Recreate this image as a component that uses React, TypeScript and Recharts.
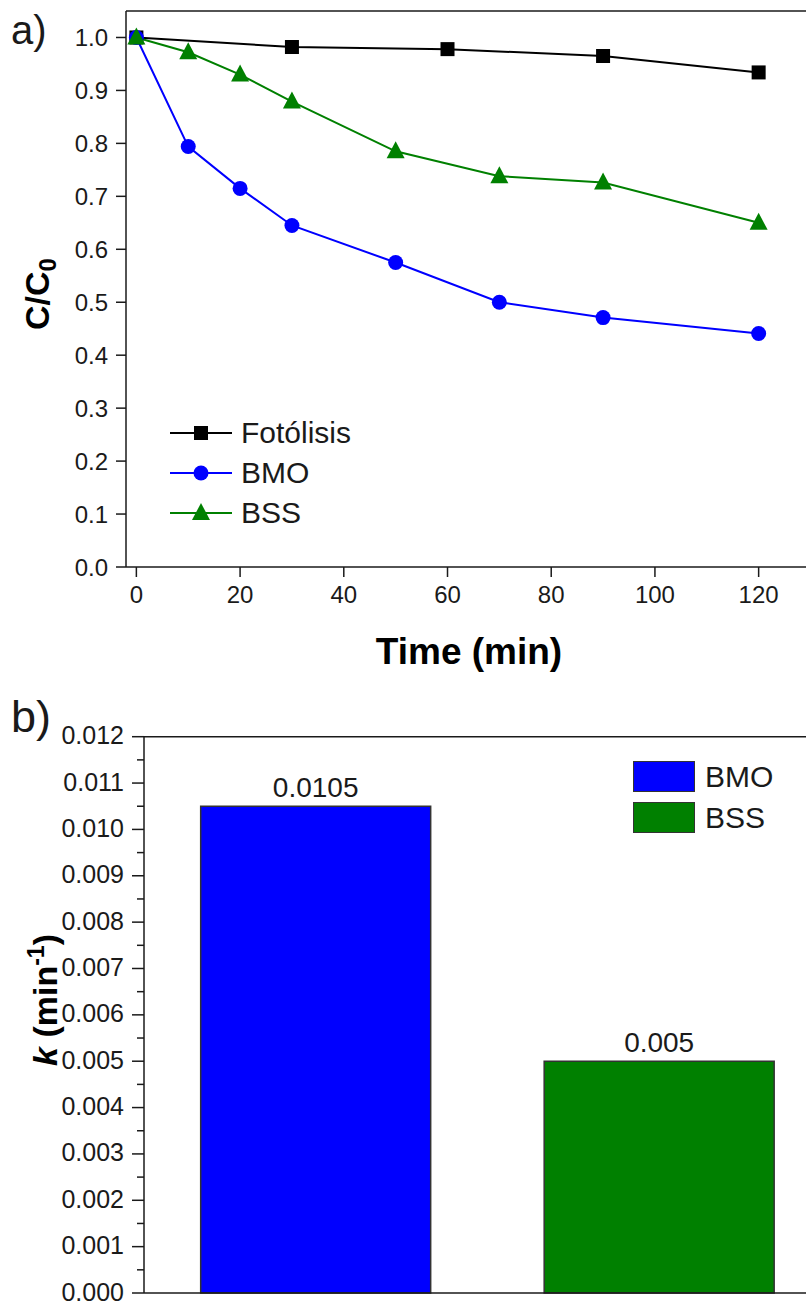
import { LineChart, Line, BarChart, Bar, Cell, XAxis, YAxis, ReferenceLine, Legend, LabelList } from 'recharts'

const FONT = '"Liberation Sans", Arial, sans-serif'
const INK = '#1a1a1a'

// a) C/C0 vs time
const fotolisisTime = [0, 30, 60, 90, 120]
const fotolisisValues = [1.0, 0.982, 0.978, 0.965, 0.934]
const catTime = [0, 10, 20, 30, 50, 70, 90, 120]
const bmoValues = [1.0, 0.794, 0.715, 0.645, 0.575, 0.5, 0.471, 0.441]
const bssValues = [1.0, 0.972, 0.93, 0.879, 0.785, 0.738, 0.726, 0.65]
const timeTicks = [0, 20, 40, 60, 80, 100, 120]
const ratioTicks = [0, 0.1, 0.2, 0.3, 0.4, 0.5, 0.6, 0.7, 0.8, 0.9, 1.0]

// b) rate constants
const catalysts = ['BMO', 'BSS']
const rateValues = [0.0105, 0.005]
const rateTicks = [
  0, 0.0005, 0.001, 0.0015, 0.002, 0.0025, 0.003, 0.0035, 0.004, 0.0045, 0.005, 0.0055, 0.006,
  0.0065, 0.007, 0.0075, 0.008, 0.0085, 0.009, 0.0095, 0.01, 0.0105, 0.011, 0.0115, 0.012,
]

const BLUE = '#0000ff'
const GREEN = '#008000'

const fotolisisData = fotolisisTime.map((t, i) => ({ t, v: fotolisisValues[i] }))
const bmoData = catTime.map((t, i) => ({ t, v: bmoValues[i] }))
const bssData = catTime.map((t, i) => ({ t, v: bssValues[i] }))
const rateData = catalysts.map((name, i) => ({ name, k: rateValues[i] }))
const barColors = [BLUE, GREEN]

const SquareDot = (p: any) => (
  <rect key={p.index} x={p.cx - 7} y={p.cy - 7} width={14} height={14} fill="#000" />
)
const CircleDot = (p: any) => <circle key={p.index} cx={p.cx} cy={p.cy} r={7.5} fill={BLUE} />
const TriangleDot = (p: any) => (
  <polygon
    key={p.index}
    points={`${p.cx},${p.cy - 10} ${p.cx - 9},${p.cy + 7} ${p.cx + 9},${p.cy + 7}`}
    fill={GREEN}
  />
)

const lineLegend = [
  { label: 'Fotólisis', color: '#000', shape: 'square' },
  { label: 'BMO', color: BLUE, shape: 'circle' },
  { label: 'BSS', color: GREEN, shape: 'triangle' },
]

const LineLegend = () => (
  <div style={{ fontFamily: FONT, color: INK }}>
    {lineLegend.map((it) => (
      <div key={it.label} style={{ display: 'flex', alignItems: 'center', height: 40 }}>
        <svg width={62} height={40}>
          <line x1={0} x2={62} y1={20} y2={20} stroke={it.color} strokeWidth={2} />
          {it.shape === 'square' && <rect x={24} y={13} width={14} height={14} fill={it.color} />}
          {it.shape === 'circle' && <circle cx={31} cy={20} r={7.5} fill={it.color} />}
          {it.shape === 'triangle' && <polygon points="31,10 22,27 40,27" fill={it.color} />}
        </svg>
        <span style={{ fontSize: 30, marginLeft: 9, lineHeight: 1 }}>{it.label}</span>
      </div>
    ))}
  </div>
)

const BarLegend = () => (
  <div style={{ fontFamily: FONT, color: INK }}>
    {catalysts.map((c, i) => (
      <div key={c} style={{ display: 'flex', alignItems: 'center', height: 41 }}>
        <div
          style={{ width: 60, height: 29, background: barColors[i], border: '1px solid #333' }}
        />
        <span style={{ fontSize: 30, marginLeft: 10, lineHeight: 1 }}>{c}</span>
      </div>
    ))}
  </div>
)

const BAR_AXIS_X = 144

const RateTick = (props: any) => {
  const { y, payload } = props
  const v = payload.value
  const major = Math.round(v * 10000) % 10 === 0
  return (
    <g>
      <line
        x1={BAR_AXIS_X - (major ? 12 : 7)}
        x2={BAR_AXIS_X}
        y1={y}
        y2={y}
        stroke={INK}
        strokeWidth={1.5}
      />
      {major && (
        <text
          x={BAR_AXIS_X - 20}
          y={y}
          dy="0.3em"
          textAnchor="end"
          fontSize={25}
          fontFamily={FONT}
          fill={INK}
        >
          {v.toFixed(3)}
        </text>
      )}
    </g>
  )
}

export default function App() {
  return (
    <div
      style={{
        position: 'absolute',
        left: 0,
        top: 0,
        width: 806,
        height: 1306,
        overflow: 'hidden',
        background: '#fff',
        fontFamily: FONT,
      }}
    >
      {/* a) */}
      <div style={{ position: 'absolute', left: 0, top: 0 }}>
        <LineChart width={830} height={690} margin={{ top: 11, right: 19.5, left: 0, bottom: 83 }}>
          <XAxis
            type="number"
            dataKey="t"
            domain={[-2, 130]}
            ticks={timeTicks}
            allowDataOverflow
            height={40}
            stroke={INK}
            strokeWidth={1.5}
            tickSize={10}
            tickMargin={9}
            tick={{ fill: INK, fontSize: 24, fontFamily: FONT }}
          />
          <YAxis
            type="number"
            domain={[0, 1.05]}
            ticks={ratioTicks}
            width={126}
            interval={0}
            stroke={INK}
            strokeWidth={1.5}
            tickSize={10}
            tickMargin={8}
            tickFormatter={(v: number) => v.toFixed(1)}
            tick={{ fill: INK, fontSize: 24, fontFamily: FONT }}
          />
          <ReferenceLine y={1.05} stroke={INK} strokeWidth={1.5} />
          <Line
            data={fotolisisData}
            dataKey="v"
            stroke="#000"
            strokeWidth={2}
            dot={SquareDot}
            activeDot={false}
            isAnimationActive={false}
          />
          <Line
            data={bmoData}
            dataKey="v"
            stroke={BLUE}
            strokeWidth={2}
            dot={CircleDot}
            activeDot={false}
            isAnimationActive={false}
          />
          <Line
            data={bssData}
            dataKey="v"
            stroke={GREEN}
            strokeWidth={2}
            dot={TriangleDot}
            activeDot={false}
            isAnimationActive={false}
          />
          <Legend
            layout="vertical"
            align="center"
            verticalAlign="middle"
            content={<LineLegend />}
            wrapperStyle={{ left: 170, top: 413, width: 240 }}
          />
        </LineChart>
      </div>

      {/* b) */}
      <div style={{ position: 'absolute', left: 0, top: 690 }}>
        <BarChart
          width={850}
          height={616}
          data={rateData}
          barCategoryGap="16.5%"
          margin={{ top: 46.7, right: 19, left: 0, bottom: 0 }}
        >
          <XAxis
            dataKey="name"
            height={13}
            tick={false}
            tickLine={false}
            stroke={INK}
            strokeWidth={1.5}
          />
          <YAxis
            type="number"
            domain={[0, 0.012]}
            ticks={rateTicks}
            interval={0}
            width={144}
            stroke={INK}
            strokeWidth={1.5}
            tickLine={false}
            tick={<RateTick />}
          />
          <ReferenceLine y={0.012} stroke={INK} strokeWidth={1.5} />
          <Bar dataKey="k" stroke="#333" strokeWidth={1.5} isAnimationActive={false}>
            {rateData.map((d, i) => (
              <Cell key={d.name} fill={barColors[i]} />
            ))}
            <LabelList
              dataKey="k"
              position="top"
              offset={9}
              fill={INK}
              fontSize={28}
              fontFamily={FONT}
            />
          </Bar>
          <Legend
            layout="vertical"
            align="center"
            verticalAlign="middle"
            content={<BarLegend />}
            wrapperStyle={{ left: 633, top: 66, width: 160 }}
          />
        </BarChart>
      </div>

      {/* panel tags and axis titles */}
      <div style={{ position: 'absolute', left: 11, top: 10, fontSize: 40, lineHeight: '40px', color: INK }}>
        a)
      </div>
      <div style={{ position: 'absolute', left: 11, top: 694, fontSize: 45, lineHeight: '45px', color: INK }}>
        b)
      </div>
      <div
        style={{
          position: 'absolute',
          left: 469,
          top: 652,
          transform: 'translate(-50%, -50%)',
          fontSize: 37,
          fontWeight: 'bold',
          whiteSpace: 'nowrap',
          color: '#000',
        }}
      >
        Time (min)
      </div>
      <div
        style={{
          position: 'absolute',
          left: 40,
          top: 294,
          transform: 'translate(-50%, -50%) rotate(-90deg)',
          fontSize: 34,
          fontWeight: 'bold',
          whiteSpace: 'nowrap',
          color: '#000',
        }}
      >
        C/C<sub style={{ fontSize: 24 }}>0</sub>
      </div>
      <div
        style={{
          position: 'absolute',
          left: 44,
          top: 1000,
          transform: 'translate(-50%, -50%) rotate(-90deg)',
          fontSize: 34,
          fontWeight: 'bold',
          whiteSpace: 'nowrap',
          color: '#000',
        }}
      >
        <i>k</i> (min<sup style={{ fontSize: 23 }}>-1</sup>)
      </div>
    </div>
  )
}
